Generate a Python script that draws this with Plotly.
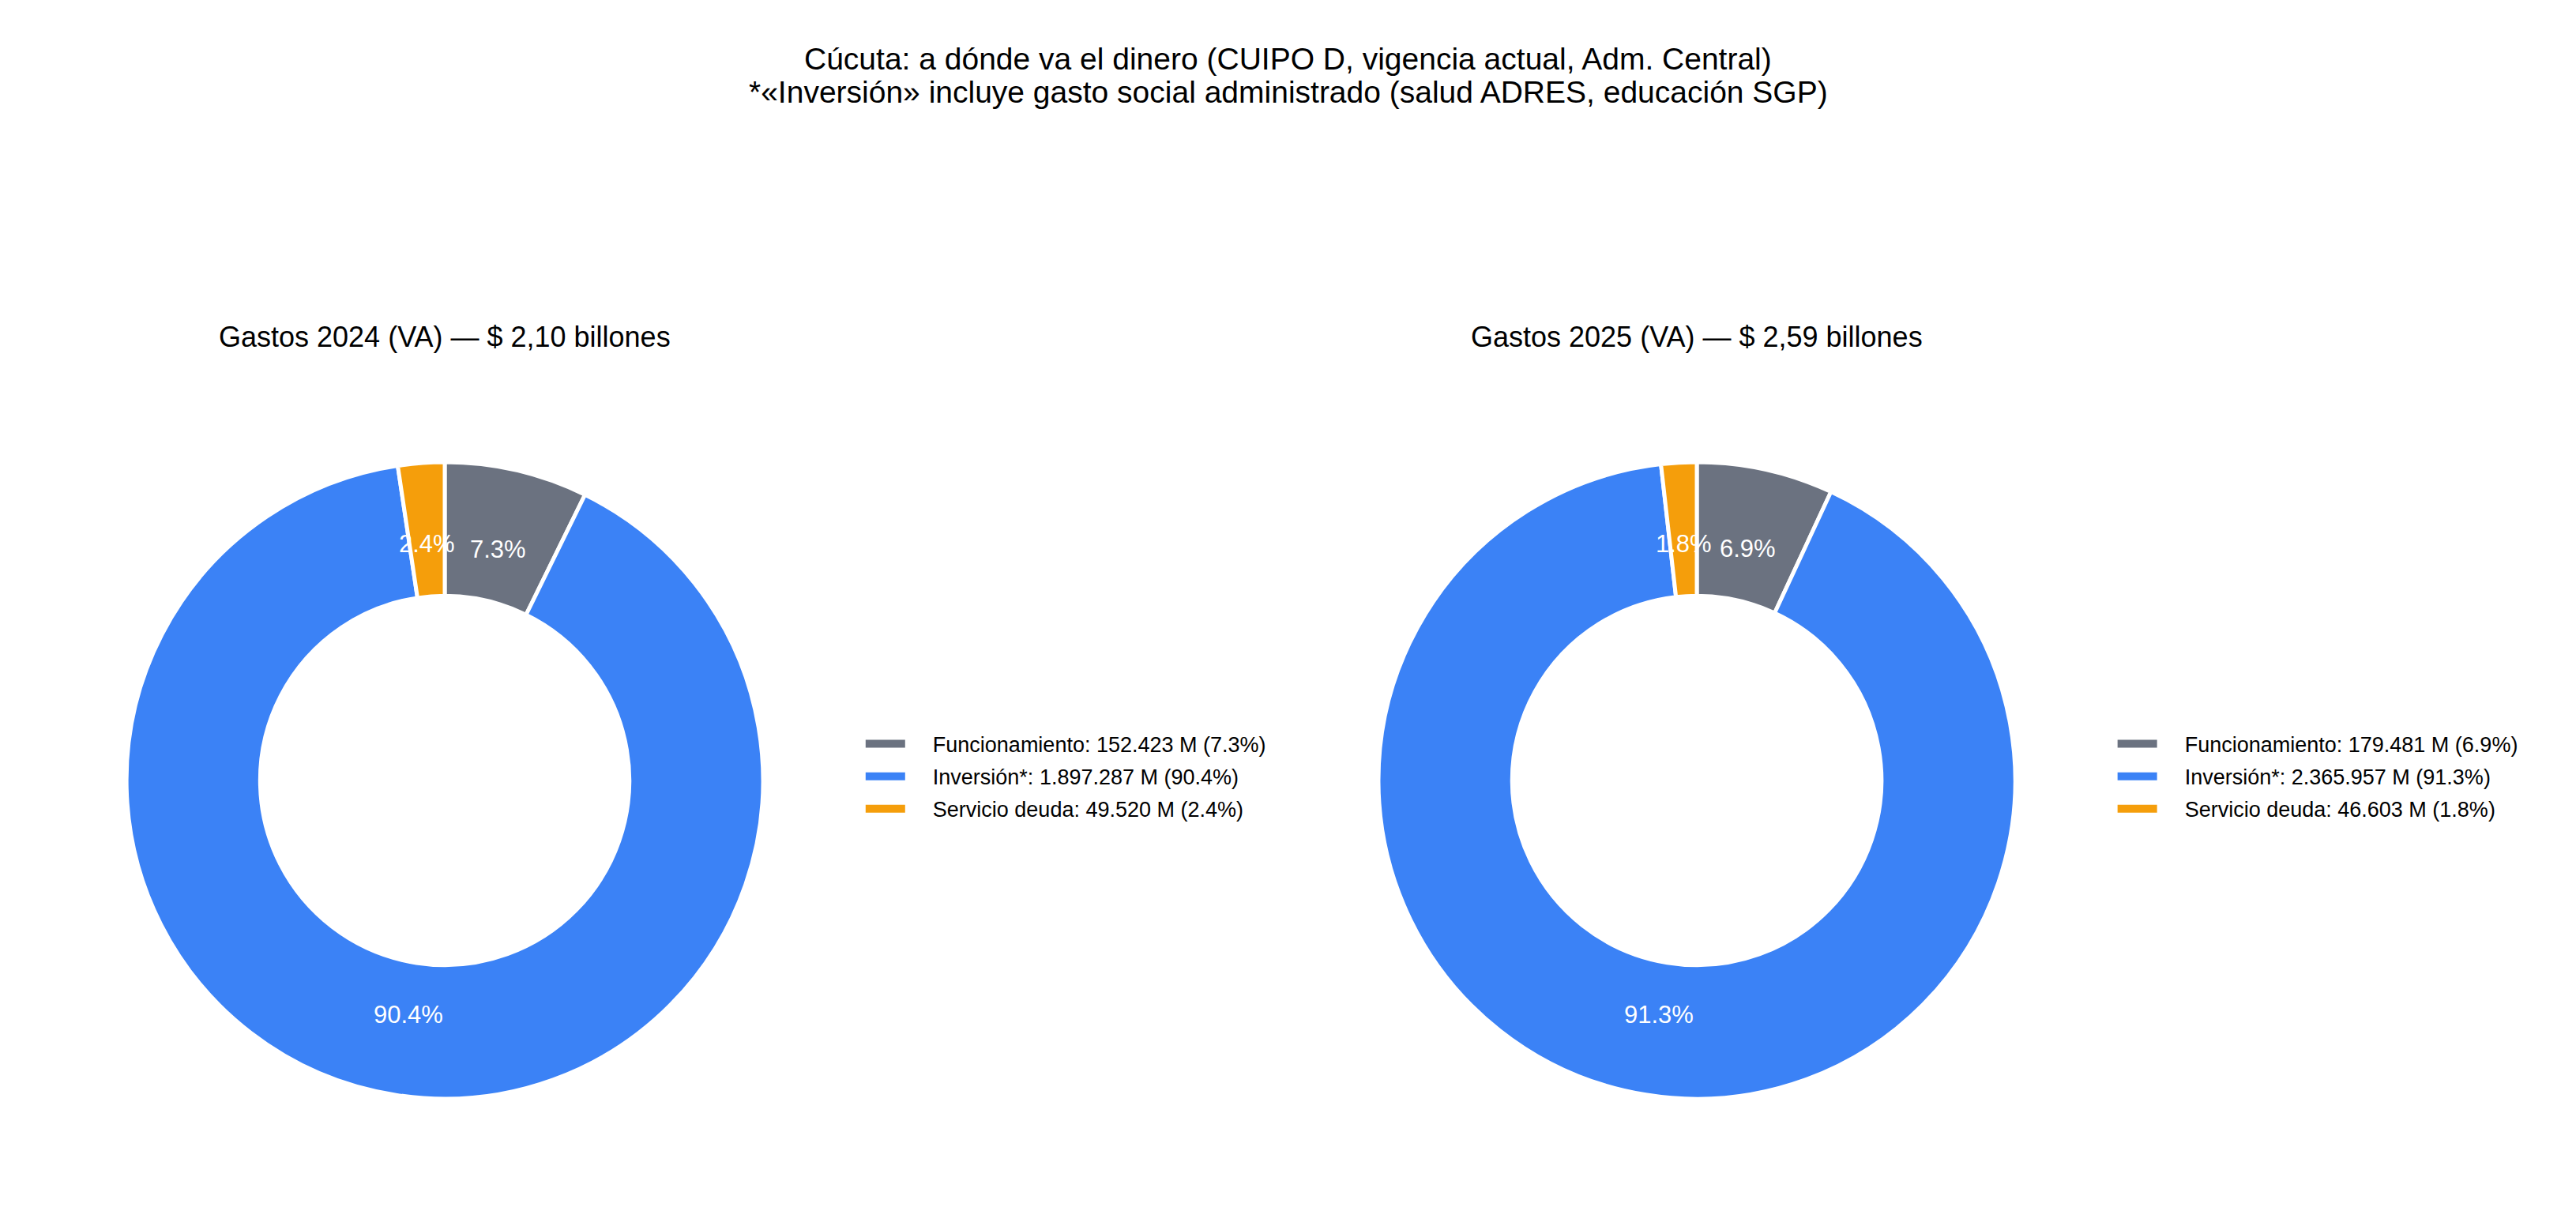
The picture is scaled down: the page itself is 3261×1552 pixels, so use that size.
import math
import plotly.graph_objects as go

# Datos (millones de pesos)
categorias = ['Funcionamiento', 'Inversión*', 'Servicio deuda']
gastos_2024 = [152423, 1897287, 49520]
gastos_2025 = [179481, 2365957, 46603]
colores = ['#6b7280', '#3b82f6', '#f59e0b']

FUENTE = 'Liberation Sans, Arial, sans-serif'
W, H = 3261, 1552
DOM_Y = [0.1037, 0.6231]
DOMINIOS_X = [[0.0491, 0.2962], [0.5351, 0.7823]]


def miles(v):
    return f'{v:,}'.replace(',', '.')


def etiquetas(valores):
    total = sum(valores)
    return [f'{c}: {miles(v)} M ({v / total * 100:.1f}%)' for c, v in zip(categorias, valores)]


def titulo(anio, valores):
    billones = sum(valores) / 1e6
    return f'Gastos {anio} (VA) — $ {billones:.2f}'.replace('.', ',') + ' billones'


def porcentajes(valores, dom_x):
    # etiquetas de porcentaje a ~0.75 del radio, en el ángulo medio de cada porción
    total = sum(valores)
    cx = (dom_x[0] + dom_x[1]) / 2
    cy = (DOM_Y[0] + DOM_Y[1]) / 2
    r = min((dom_x[1] - dom_x[0]) * W, (DOM_Y[1] - DOM_Y[0]) * H) / 2 * 0.745
    notas, acum = [], 0
    for v in valores:
        ang = 2 * math.pi * (acum + v / 2) / total
        acum += v
        notas.append(dict(
            text=f'{v / total * 100:.1f}%', x=cx + r * math.sin(ang) / W, y=cy + r * math.cos(ang) / H,
            xref='paper', yref='paper', showarrow=False, xanchor='center', yanchor='middle',
            font=dict(size=31, color='white', family=FUENTE)))
    return notas


fig = go.Figure()

for valores, dom_x in zip([gastos_2024, gastos_2025], DOMINIOS_X):
    fig.add_trace(go.Pie(
        labels=categorias, values=valores,
        marker=dict(colors=colores, line=dict(color='white', width=5)),
        hole=0.58, sort=False, direction='clockwise', rotation=0,
        textinfo='none', hoverinfo='label+value+percent',
        domain=dict(x=dom_x, y=DOM_Y),
        showlegend=False,
    ))

# entradas de leyenda (rectángulos de color)
for nombre_leyenda, valores in [('legend', gastos_2024), ('legend2', gastos_2025)]:
    for texto, color in zip(etiquetas(valores), colores):
        fig.add_trace(go.Scatter(
            x=[None], y=[None], mode='lines', name='\u00a0' * 4 + texto,
            line=dict(color=color, width=12),
            legend=nombre_leyenda, legendgroup=nombre_leyenda + texto,
        ))

notas = [
    dict(text='Cúcuta: a dónde va el dinero (CUIPO D, vigencia actual, Adm. Central)',
         x=0.5, y=0.952, xref='paper', yref='paper', showarrow=False,
         xanchor='center', yanchor='middle', font=dict(size=39, family=FUENTE)),
    dict(text='*«Inversión» incluye gasto social administrado (salud ADRES, educación SGP)',
         x=0.5, y=0.925, xref='paper', yref='paper', showarrow=False,
         xanchor='center', yanchor='middle', font=dict(size=39, family=FUENTE)),
]
for anio, valores, dom_x in zip([2024, 2025], [gastos_2024, gastos_2025], DOMINIOS_X):
    notas.append(dict(text=titulo(anio, valores), x=(dom_x[0] + dom_x[1]) / 2, y=0.725,
                      xref='paper', yref='paper', showarrow=False,
                      xanchor='center', yanchor='middle', font=dict(size=36, family=FUENTE)))
    notas += porcentajes(valores, dom_x)

leyenda = dict(y=0.3666, xanchor='left', yanchor='middle', itemwidth=50,
               tracegroupgap=3, font=dict(size=27, family=FUENTE), bgcolor='rgba(0,0,0,0)')

fig.update_layout(
    width=W, height=H,
    margin=dict(l=0, r=0, t=0, b=0),
    paper_bgcolor='white', plot_bgcolor='white',
    font=dict(family=FUENTE, color='black'),
    xaxis=dict(visible=False), yaxis=dict(visible=False),
    legend=dict(leyenda, x=0.3345),
    legend2=dict(leyenda, x=0.8205),
    annotations=notas,
)

fig.write_html('out.html', config={'displayModeBar': False},
               post_script="document.body.style.margin='0';document.body.style.overflow='hidden';")
